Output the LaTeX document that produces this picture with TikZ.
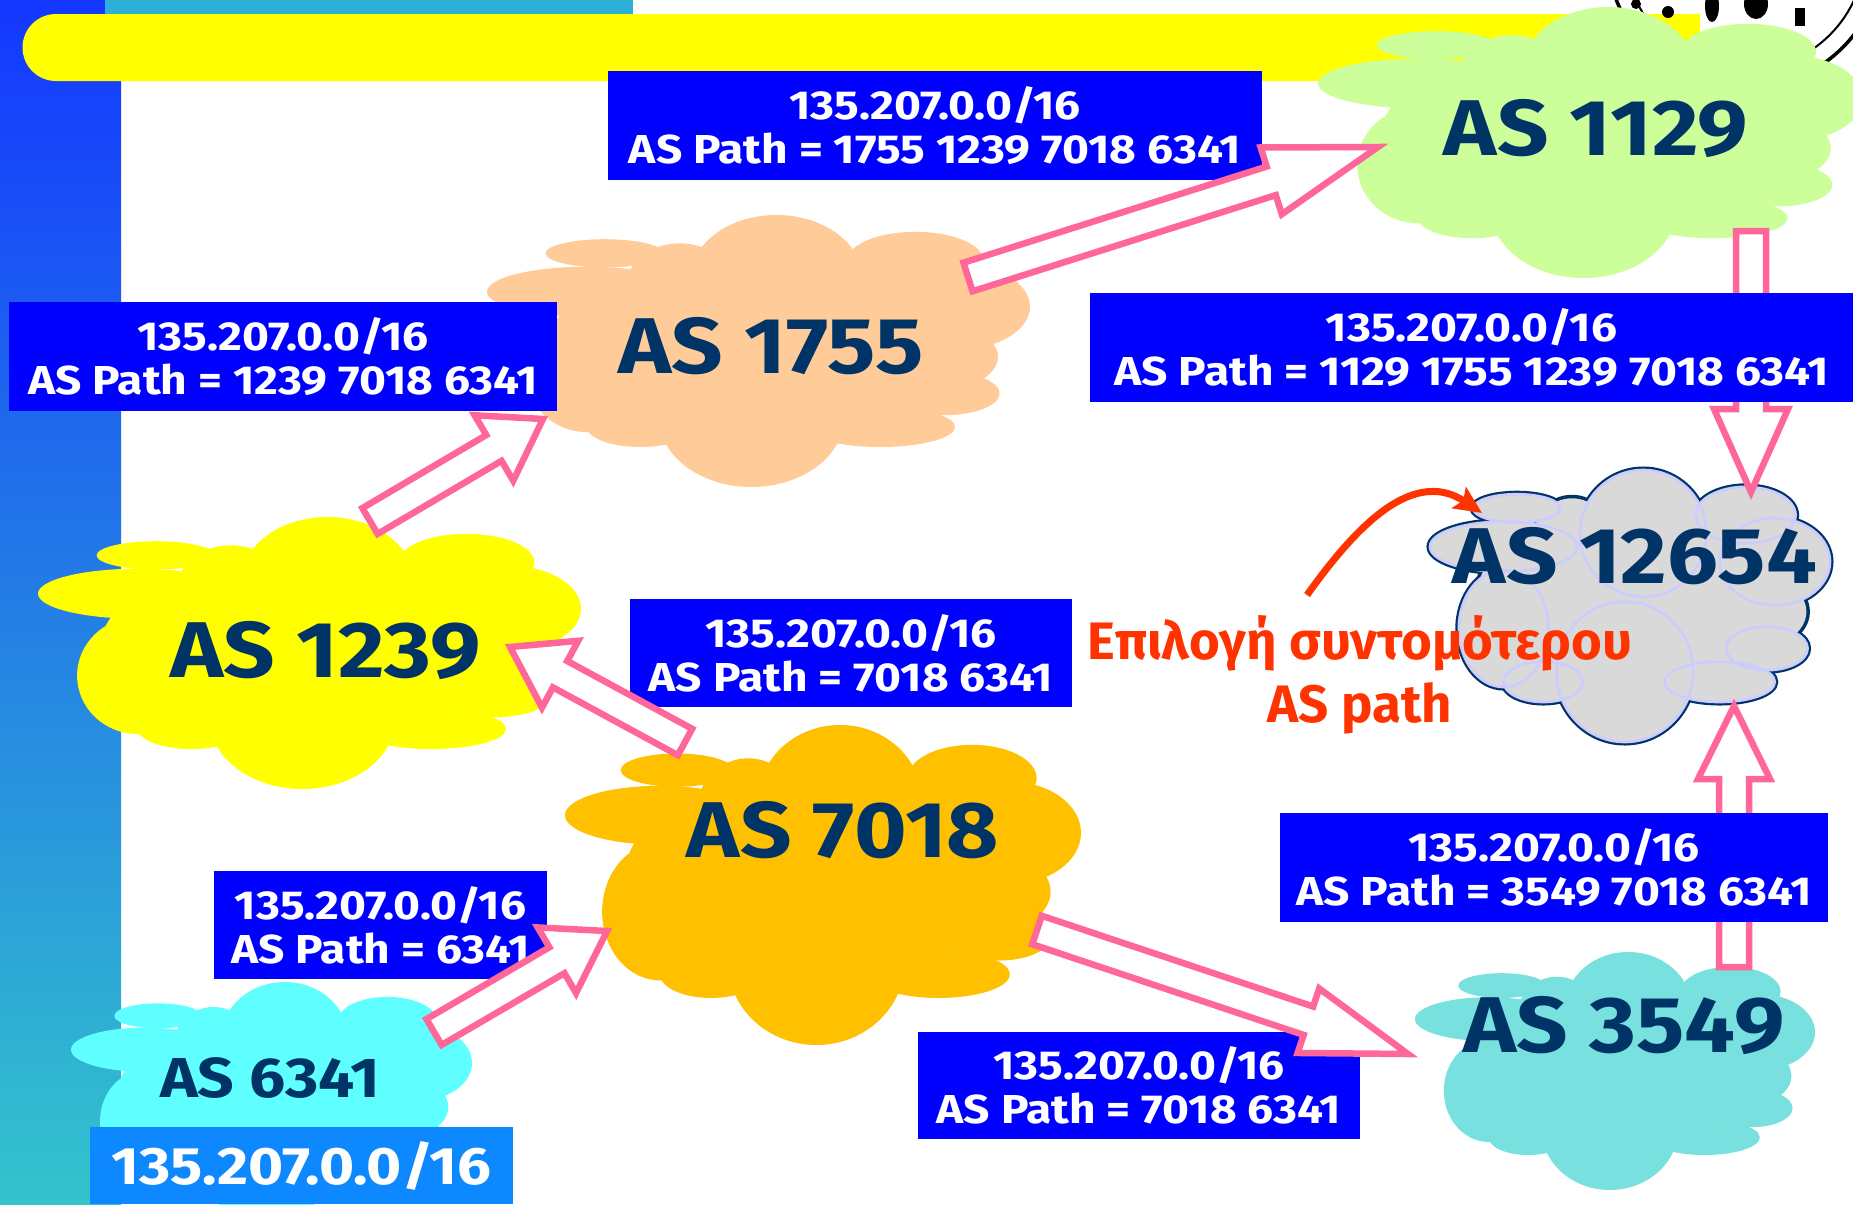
\documentclass[tikz,border=0pt]{standalone}
\usepackage{fontspec}
\setmainfont{Fira Sans}[FakeStretch=1.14]
\newfontfamily\choicefont{Fira Sans}
\usetikzlibrary{calc, arrows.meta}

\definecolor{boxblue}{HTML}{0000FF}
\definecolor{boxlight}{HTML}{0D88FF}
\definecolor{arrowpink}{HTML}{FF6699}
\definecolor{asnavy}{HTML}{003366}
\definecolor{pickred}{HTML}{FF3300}
\definecolor{barblue}{HTML}{1437FF}
\definecolor{barmid}{HTML}{2888E8}
\definecolor{barteal}{HTML}{33C4CC}
\definecolor{barstrip}{HTML}{2DB0D8}
\definecolor{baryellow}{HTML}{FFFF00}
\definecolor{cgreen}{HTML}{CCFF99}
\definecolor{cpeach}{HTML}{FFCC99}
\definecolor{cyellow}{HTML}{FFFF00}
\definecolor{corange}{HTML}{FFC000}
\definecolor{ccyan}{HTML}{5FFFFF}
\definecolor{cteal}{HTML}{78E0DE}
\definecolor{cgray}{HTML}{D9D9D9}
\definecolor{clavender}{HTML}{CCCCFF}

\tikzset{
  aslabel/.style={text=asnavy, anchor=base, font=\fontsize{45}{50}\selectfont\bfseries},
  pathbox/.style={rectangle, fill=boxblue, text=white, align=center, inner sep=0pt, font=\fontsize{23}{25}\selectfont\bfseries},
  blockarrow/.style={draw=arrowpink, fill=white, line width=0.13cm, line join=miter},
  choicearrow/.style={draw=pickred, line width=0.14cm, -{Stealth[length=0.55cm, width=0.5cm, inset=0.1cm]}}
}

% ellipses of a cloud, in a unit box: centre u/v, radii
\newcommand{\cloudrim}{
    .217/.141/.109/.052, .184/.282/.184/.092, .533/.233/.158/.233,
    .789/.166/.125/.104, .862/.337/.138/.160, .842/.656/.102/.080,
    .724/.779/.138/.074, .487/.742/.171/.258, .283/.779/.099/.074,
    .184/.583/.112/.215}
\newcommand{\cloudparts}{
    .217/.141/.109/.052, .184/.282/.184/.092, .533/.233/.158/.233,
    .789/.166/.125/.104, .862/.337/.138/.160, .842/.656/.102/.080,
    .724/.779/.138/.074, .487/.742/.171/.258, .283/.779/.099/.074,
    .184/.583/.112/.215, .513/.460/.395/.320, .809/.521/.132/.135,
    .355/.264/.099/.160}

% cloud: #2 path options, #3/#4 top left corner, #5/#6 width and height (px)
\newcommand{\cloudshape}[6][\cloudparts]{
    \begin{scope}[shift={(#3,#4)}, xscale=#5, yscale=#6]
        \foreach \u/\v/\ru/\rv in #1 {
            \path[#2] (\u,\v) ellipse [x radius=\ru, y radius=\rv];
        }
    \end{scope}
}

% block arrow from #1 to #2, head length #3 and head half width #4 (px)
\newcommand{\blockarrow}[4]{
    \coordinate (hb) at ($(#2)!#3*0.02cm!(#1)$);
    \draw[blockarrow] ($(#1)!0.3cm!90:(#2)$) -- ($(hb)!0.3cm!90:(#2)$)
        -- ($(hb)!#4*0.02cm!90:(#2)$) -- (#2) -- ($(hb)!#4*0.02cm!-90:(#2)$)
        -- ($(hb)!0.3cm!-90:(#2)$) -- ($(#1)!0.3cm!-90:(#2)$) -- cycle;
}

\begin{document}
\begin{tikzpicture}[x=0.02cm, y=-0.02cm]
    \useasboundingbox (0,0) rectangle (1853,1204);
    \clip (0,0) rectangle (1853,1204);
    \fill[white] (0,0) rectangle (1853,1204);

    % --- Side bar and title bar ---
    \shade[top color=barblue, middle color=barmid, bottom color=barteal] (0,0) rectangle (121,1204);
    \fill[barstrip] (105,0) rectangle (633,15);
    \fill[baryellow] (56,14) -- (1700,14) -- (1700,81) -- (56,81) arc[start angle=90, end angle=270, radius=33.5] -- cycle;

    % Seal in the top right corner
    \draw[line width=0.07cm] (1745,-50) circle (138);
    \draw[line width=0.04cm] (1745,-50) circle (120);
    \fill (1712,6) ellipse [x radius=7, y radius=16];
    \fill (1756,4) ellipse [x radius=12, y radius=15];
    \fill (1636,4) circle (5);
    \fill (1668,12) circle (6);
    \fill (1795,8) rectangle (1805,26);

    % --- Clouds ---
    \cloudshape{fill=cgreen}{1318}{7}{545}{271}
    \cloudshape{fill=cpeach}{487}{215}{543}{272}
    \cloudshape{fill=cyellow}{38}{517}{543}{272}
    \cloudshape{fill=corange}{565}{725}{516}{320}
    \cloudshape{fill=ccyan}{71}{982}{401}{240}
    \cloudshape{fill=cteal}{1415}{952}{400}{238}
    \cloudshape{draw=asnavy, line width=4pt}{1430}{470}{400}{272}
    \cloudshape{fill=cgray}{1430}{470}{400}{272}
    \cloudshape[\cloudrim]{draw=clavender, line width=1.5pt}{1430}{470}{400}{272}

    \node[aslabel] (as1129) at (1596,155) {AS 1129};
    \node[aslabel] (as1755) at (771,373) {AS 1755};
    \node[aslabel] (as1239) at (326,677) {AS 1239};
    \node[aslabel] (as7018) at (843,857) {AS 7018};
    \node[aslabel, font=\fontsize{32}{36}\selectfont\bfseries] (as6341) at (270,1097) {AS 6341};
    \node[aslabel] (as3549) at (1624,1052) {AS 3549};
    \node[aslabel] (as12654) at (1635,583) {AS 12654};

    % --- Announcements ---
    \node[pathbox, minimum width=13.08cm, minimum height=2.18cm] (adv1755) at (935,125.5) {135.207.0.0/16\\AS Path = 1755 1239 7018 6341};
    \node[pathbox, minimum width=10.96cm, minimum height=2.18cm] (adv1239) at (283,356.5) {135.207.0.0/16\\AS Path = 1239 7018 6341};
    \node[pathbox, minimum width=8.84cm, minimum height=2.16cm] (adv7018) at (851,653) {135.207.0.0/16\\AS Path = 7018 6341};
    \node[pathbox, minimum width=6.66cm, minimum height=2.16cm] (adv6341) at (380.5,925) {135.207.0.0/16\\AS Path = 6341};
    \node[pathbox, minimum width=8.84cm, minimum height=2.14cm] (adv7018b) at (1139,1085.5) {135.207.0.0/16\\AS Path = 7018 6341};
    \node[pathbox, fill=boxlight, minimum width=8.46cm, minimum height=1.54cm, font=\fontsize{30}{34}\selectfont\bfseries] (prefix) at (301.5,1165.5) {135.207.0.0/16};

    % --- Block arrows ---
    \coordinate (t6341) at (434,1032);  \coordinate (h7018) at (607,931);
    \coordinate (t7018) at (685,742);   \coordinate (h1239) at (510,647);
    \coordinate (t1239) at (370,521);   \coordinate (h1755) at (543,419);
    \coordinate (t1755) at (968,277);   \coordinate (h1129) at (1378,147);
    \coordinate (t1129) at (1751,231);  \coordinate (h12654a) at (1751,492);
    \coordinate (t7018b) at (1037,930); \coordinate (h3549) at (1408,1054);
    \coordinate (t3549) at (1734,967);  \coordinate (h12654b) at (1734,706);

    \blockarrow{t6341}{h7018}{58}{38}
    \blockarrow{t7018}{h1239}{57}{38}
    \blockarrow{t1239}{h1755}{57}{38}
    \blockarrow{t1755}{h1129}{112}{35}
    \blockarrow{t1129}{h12654a}{83}{37}
    \blockarrow{t7018b}{h3549}{105}{34}
    \blockarrow{t3549}{h12654b}{73}{36}

    \node[pathbox, minimum width=15.26cm, minimum height=2.18cm] (adv1129) at (1471.5,347.5) {135.207.0.0/16\\AS Path = 1129 1755 1239 7018 6341};
    \node[pathbox, minimum width=10.96cm, minimum height=2.18cm] (adv3549) at (1554,867.5) {135.207.0.0/16\\AS Path = 3549 7018 6341};

    % --- Shortest path choice ---
    \node[text=pickred, align=center, font=\choicefont\fontsize{30}{36}\selectfont\bfseries] (choice) at (1360,675) {Επιλογή συντομότερου\\AS path};
    \coordinate (pickstart) at (1307,595);
    \coordinate (pickend) at (1482,513);
    \draw[choicearrow] (pickstart) .. controls (1350,535) and (1410,465) .. (pickend);

\end{tikzpicture}
\end{document}
